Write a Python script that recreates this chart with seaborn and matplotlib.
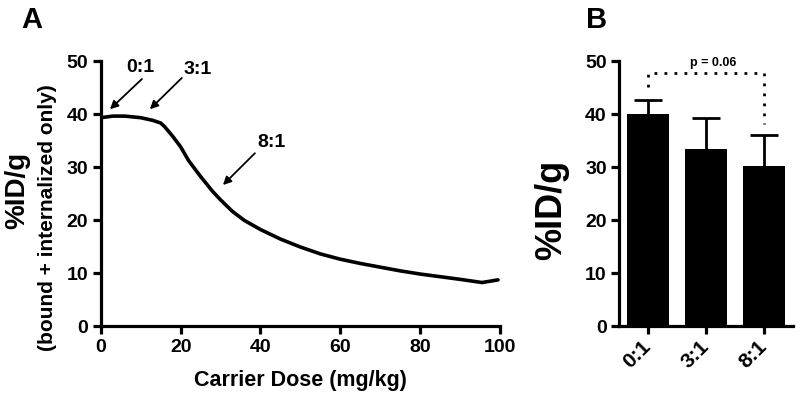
import numpy as np
import pandas as pd
import matplotlib
matplotlib.use("Agg")
import matplotlib.pyplot as plt
import seaborn as sns

# Panel A: uptake curve vs carrier dose
dose = [0, 3, 6, 10, 13, 15, 16, 18, 20, 22, 25, 28, 30, 33, 36, 40, 45, 50,
        55, 60, 65, 70, 75, 80, 85, 90, 95.5, 99.5]
uptake = [39.3, 39.6, 39.6, 39.3, 38.8, 38.3, 37.6, 35.8, 33.8, 31.2, 28.2, 25.4,
          23.8, 21.6, 19.9, 18.2, 16.4, 14.9, 13.6, 12.6, 11.8, 11.1, 10.4, 9.8,
          9.3, 8.8, 8.2, 8.7]

# annotations: label, text pos, arrow tail, arrow head
ann_labels = ["0:1", "3:1", "8:1"]
ann_text = [(9.8, 48.9), (24.3, 48.5), (42.8, 34.9)]
ann_tail = [(10.3, 46.6), (20.3, 46.8), (38.6, 32.6)]
ann_head = [(2.3, 40.9), (12.3, 40.9), (30.6, 26.6)]

# Panel B: bars
ratios = ["0:1", "3:1", "8:1"]
means = [40.0, 33.3, 30.2]
errs = [2.7, 5.9, 5.9]

sns.set_style("ticks")
plt.rcParams['font.family'] = ['Liberation Sans', 'DejaVu Sans']
plt.rcParams['font.weight'] = 'bold'
plt.rcParams['text.color'] = 'black'
plt.rcParams['axes.labelcolor'] = 'black'
plt.rcParams['xtick.color'] = 'black'
plt.rcParams['ytick.color'] = 'black'

fig = plt.figure(figsize=(8, 4.02), dpi=100)
axA = fig.add_axes([0.126, 0.1866, 0.499, 0.6592])
axB = fig.add_axes([0.774, 0.1866, 0.217, 0.6592])

lw = 2.3
for ax in (axA, axB):
    for s in ("top", "right"):
        ax.spines[s].set_visible(False)
    for s in ("left", "bottom"):
        ax.spines[s].set_linewidth(lw)
        ax.spines[s].set_color("black")
    ax.tick_params(width=lw, length=6, labelsize=14, color="black", pad=3)

# --- Panel A
df = pd.DataFrame({"dose": dose, "uptake": uptake})
sns.lineplot(data=df, x="dose", y="uptake", ax=axA, color="black", linewidth=2.6)
axA.set_xlim(0, 100)
axA.set_ylim(0, 50)
axA.set_xticks([0, 20, 40, 60, 80, 100])
axA.set_yticks([0, 10, 20, 30, 40, 50])
axA.set_xlabel("Carrier Dose (mg/kg)", fontsize=15.5, fontweight="bold", labelpad=10)
axA.set_ylabel("")
for lab in axA.get_xticklabels() + axA.get_yticklabels():
    lab.set_fontweight("bold")

for lab, tp, tl, hd in zip(ann_labels, ann_text, ann_tail, ann_head):
    axA.text(tp[0], tp[1], lab, ha="center", va="center", fontsize=14,
             fontweight="bold", clip_on=False)
    axA.annotate("", xy=hd, xytext=tl,
                 arrowprops=dict(arrowstyle="-|>", color="black", lw=1.3,
                                 mutation_scale=12, shrinkA=0, shrinkB=0))

fig.text(0.021, 1 - 190 / 402, "%ID/g", rotation=90, ha="center", va="center",
         fontsize=20, fontweight="bold")
fig.text(0.059, 1 - 218 / 402, "(bound + internalized only)", rotation=90,
         ha="center", va="center", fontsize=15, fontweight="bold")

# --- Panel B
dfb = pd.DataFrame({"ratio": ratios, "mean": means})
sns.barplot(data=dfb, x="ratio", y="mean", ax=axB, color="black",
            width=0.72, errorbar=None, saturation=1, zorder=3,
            edgecolor="black", linewidth=0)
xs = np.arange(len(ratios))
# upper error bars only (GraphPad style)
axB.errorbar(xs, means, yerr=[np.zeros(len(errs)), errs], fmt="none",
             ecolor="black", elinewidth=2, capsize=0, zorder=1)
axB.scatter(xs, np.add(means, errs), marker="_", s=400, linewidths=2,
            color="black", zorder=2)
axB.set_xlim(-0.5, 2.5)
axB.set_ylim(0, 50)
axB.set_yticks([0, 10, 20, 30, 40, 50])
axB.set_xlabel("")
axB.set_ylabel("")
axB.set_xticks(xs)
axB.tick_params(axis="x", pad=6)
axB.set_xticklabels(ratios, rotation=45, ha="right", va="center",
                    rotation_mode="anchor", fontsize=15, fontweight="bold")
for lab in axB.get_yticklabels():
    lab.set_fontweight("bold")

# significance bracket
axB.plot([0, 0, 2, 2], [45, 47.7, 47.7, 38.1], color="black", lw=2,
         linestyle=(0, (1, 2.6)), clip_on=False)
axB.text(1.12, 48.6, "p = 0.06", ha="center", va="bottom", fontsize=9,
         fontweight="bold")

fig.text(552 / 800, 1 - 210 / 402, "%ID/g", rotation=90, ha="center",
         va="center", fontsize=26, fontweight="bold")

fig.text(32 / 800, 1 - 20 / 402, "A", ha="center", va="center", fontsize=21,
         fontweight="bold")
fig.text(597 / 800, 1 - 20 / 402, "B", ha="center", va="center", fontsize=21,
         fontweight="bold")

fig.savefig("out.png", dpi=100)
